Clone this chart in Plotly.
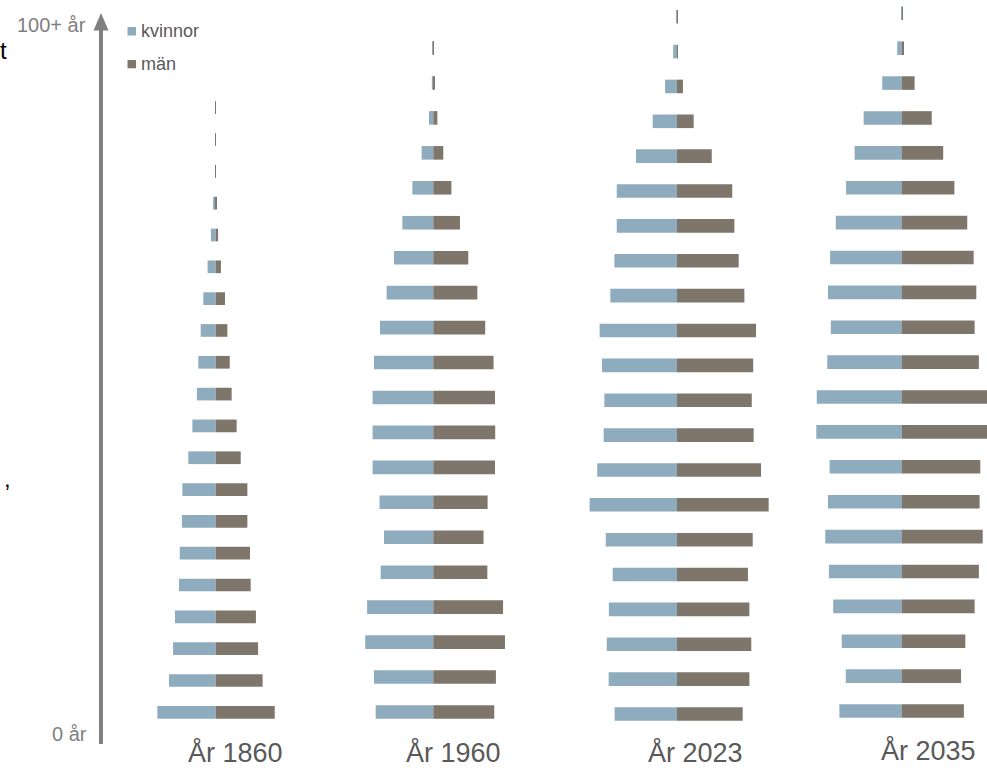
import plotly.graph_objects as go

W, H = 987, 770

ages = ["0-4", "5-9", "10-14", "15-19", "20-24", "25-29", "30-34", "35-39",
        "40-44", "45-49", "50-54", "55-59", "60-64", "65-69", "70-74", "75-79",
        "80-84", "85-89", "90-94", "95-99", "100+"]

years = ["År 1860", "År 1960", "År 2023", "År 2035"]

# population per age group, thousands, youngest first
kvinnor_1860 = [245, 196, 179, 171, 154, 151, 142, 140, 115, 98, 79, 73, 63, 52, 34, 20, 11, 2, 2, 2]
man_1860 = [248, 197, 178, 169, 147, 144, 133, 133, 105, 88, 67, 59, 49, 39, 22, 10, 5, 1, 1, 1]

kvinnor_1960 = [242, 249, 286, 278, 221, 207, 226, 255, 255, 255, 249, 224, 196, 165, 130, 88, 49, 18, 6, 2]
man_1960 = [256, 263, 301, 293, 227, 211, 228, 259, 260, 259, 253, 218, 185, 147, 112, 76, 42, 17, 4, 1]

kvinnor_2023 = [262, 287, 295, 286, 270, 299, 367, 335, 308, 305, 315, 325, 280, 263, 253, 253, 172, 102, 50, 16, 4]
man_2023 = [276, 304, 312, 304, 298, 318, 385, 353, 322, 314, 320, 332, 283, 259, 241, 232, 146, 70, 25, 3, 1]

kvinnor_2035 = [263, 236, 253, 289, 307, 322, 311, 304, 360, 358, 314, 299, 311, 302, 278, 235, 199, 161, 83, 20, 4]
man_2035 = [260, 248, 266, 305, 323, 339, 326, 329, 361, 361, 323, 305, 312, 301, 274, 220, 173, 125, 53, 8, 1]

women = [kvinnor_1860, kvinnor_1960, kvinnor_2023, kvinnor_2035]
men = [man_1860, man_1960, man_2023, man_2035]

C_W = "#8EACBE"
C_M = "#7F766B"
TXT = "#595959"
AX = "#808080"
FONT = "Arial, Liberation Sans, sans-serif"

# layout geometry (pixels)
centers = [215.7, 433.3, 677, 902]
xdom = [(110, 320), (320, 560), (560, 790), (790, 987)]
rows_px = [(712.3, 107.7), (712, 48), (714, 16.7), (711, 13.3)]  # bottom row, top row
thick = [12.7, 13.6, 13.6, 13.6]
K = 4.2  # thousands per pixel

fig = go.Figure()
layout = dict()
for i in range(4):
    n = len(women[i])
    labels = ages[:n]
    if n == 20:
        labels = ages[:19] + ["95+"]
    sfx = "" if i == 0 else str(i + 1)
    yb, yt = rows_px[i]
    sp = (yb - yt) / (n - 1)
    fig.add_trace(go.Bar(
        y=labels, x=[-v for v in women[i]], orientation="h",
        marker=dict(color=C_W, line=dict(width=0)), width=thick[i] / sp,
        name="kvinnor", showlegend=False,
        customdata=women[i], hovertemplate="kvinnor %{y}: %{customdata}<extra></extra>",
        xaxis="x" + sfx, yaxis="y" + sfx))
    fig.add_trace(go.Bar(
        y=labels, x=men[i], orientation="h",
        marker=dict(color=C_M, line=dict(width=0)), width=thick[i] / sp,
        name="män", showlegend=False,
        hovertemplate="män %{y}: %{x}<extra></extra>",
        xaxis="x" + sfx, yaxis="y" + sfx))
    d0, d1 = xdom[i]
    cx = centers[i]
    layout["xaxis" + sfx] = dict(domain=[d0 / W, d1 / W], range=[(d0 - cx) * K, (d1 - cx) * K],
                                 visible=False, fixedrange=True, anchor="y" + sfx)
    layout["yaxis" + sfx] = dict(domain=[0, 1], type="category",
                                 range=[(yb - H) / sp, yb / sp],
                                 visible=False, fixedrange=True, anchor="x" + sfx)

def px(x):
    return x / W

def py(y):
    return 1 - y / H

shapes = [
    dict(type="line", xref="paper", yref="paper", x0=px(101), x1=px(101), y0=py(744), y1=py(28),
         line=dict(color=AX, width=4)),
    dict(type="path", xref="paper", yref="paper",
         path=f"M {px(93.5)} {py(30.5)} L {px(108.5)} {py(30.5)} L {px(101)} {py(13)} Z",
         fillcolor=AX, line=dict(width=0)),
    dict(type="rect", xref="paper", yref="paper", x0=px(127.5), x1=px(136), y0=py(35.5), y1=py(27),
         fillcolor=C_W, line=dict(width=0)),
    dict(type="rect", xref="paper", yref="paper", x0=px(127.5), x1=px(136), y0=py(68.3), y1=py(60),
         fillcolor=C_M, line=dict(width=0)),
]

def ann(text, x, y, size, color, xanchor="center", yanchor="middle"):
    return dict(text=text, x=px(x), y=py(y), xref="paper", yref="paper", showarrow=False,
                xanchor=xanchor, yanchor=yanchor, font=dict(size=size, color=color, family=FONT))

title_pos = [(235, 769.5), (453, 769.5), (695, 769.5), (928, 768)]
annotations = [ann(t, x, y, 27, TXT, yanchor="bottom") for t, (x, y) in zip(years, title_pos)]
annotations += [
    ann("100+ år", 88, 25, 20, AX, xanchor="right"),
    ann("0 år", 89, 734, 20, AX, xanchor="right"),
    ann("kvinnor", 139, 31, 18, TXT, xanchor="left"),
    ann("män", 139, 64, 18, TXT, xanchor="left"),
    ann("t", 9, 50, 24, "#000000", xanchor="right"),
    ann(",", 2, 478, 24, "#000000", xanchor="left"),
]

fig.update_layout(
    width=W, height=H, margin=dict(l=0, r=0, t=0, b=0, pad=0),
    paper_bgcolor="white", plot_bgcolor="rgba(0,0,0,0)",
    barmode="overlay", showlegend=False,
    font=dict(family=FONT, color=TXT),
    shapes=shapes, annotations=annotations,
    **layout,
)

fig.write_html("out.html")
